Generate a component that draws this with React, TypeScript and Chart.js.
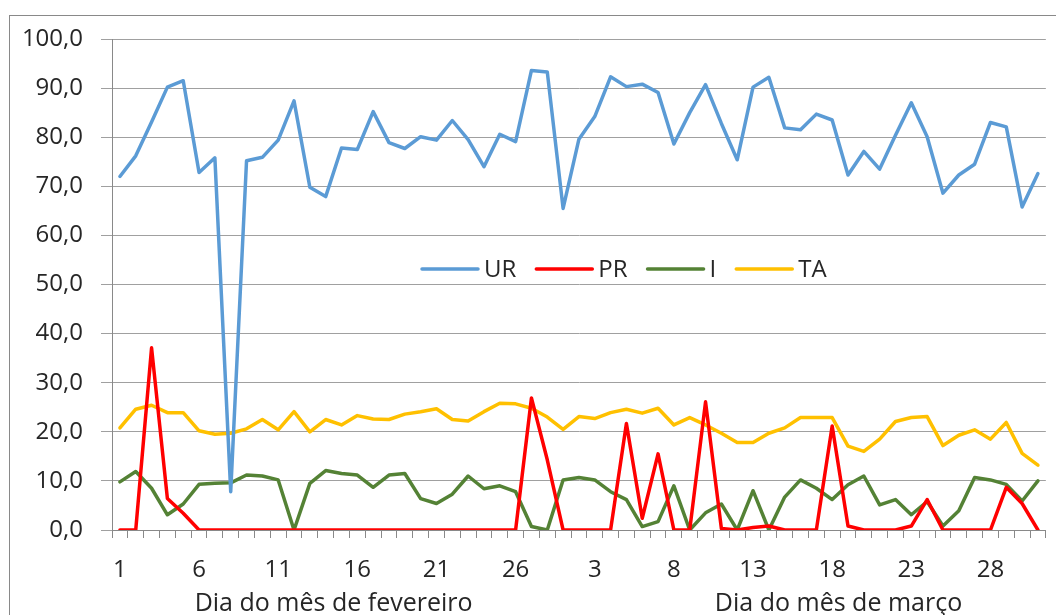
import React, { useEffect, useRef } from "react";
import { Chart, registerables } from "chart.js";

Chart.register(...registerables);

const FEB_DAYS = ["1","2","3","4","5","6","7","8","9","10","11","12","13","14","15","16","17","18","19","20","21","22","23","24","25","26","27","28"];
const MAR_DAYS = ["1","2","3","4","5","6","7","8","9","10","11","12","13","14","15","16","17","18","19","20","21","22","23","24","25","26","27","28","29","30","31"];
const DAYS = [...FEB_DAYS, ...MAR_DAYS];

const UR = [72.0, 76.2, 83.1, 90.2, 91.5, 72.8, 75.8, 7.8, 75.2, 75.9,
  79.4, 87.4, 69.8, 67.9, 77.8, 77.5, 85.2, 78.9, 77.7, 80.1,
  79.4, 83.4, 79.5, 74.0, 80.6, 79.1, 93.6, 93.3, 65.5, 79.6,
  84.2, 92.3, 90.3, 90.8, 89.1, 78.6, 85.0, 90.7, 82.8, 75.4,
  90.2, 92.2, 81.9, 81.5, 84.7, 83.5, 72.3, 77.1, 73.5, 80.4,
  87.0, 80.1, 68.6, 72.3, 74.5, 83.0, 82.1, 65.8, 72.6];
const PR = [0, 0, 37.1, 6.4, 3.4, 0, 0, 0, 0, 0,
  0, 0, 0, 0, 0, 0, 0, 0, 0, 0,
  0, 0, 0, 0, 0, 0, 26.9, 14.3, 0, 0,
  0, 0, 21.7, 2.4, 15.5, 0, 0, 26.1, 0.3, 0,
  0.5, 0.8, 0, 0, 0, 21.2, 0.8, 0, 0, 0,
  0.8, 6.2, 0, 0, 0, 0, 8.7, 5.4, 0];
const I = [9.8, 11.9, 8.5, 3.1, 5.3, 9.3, 9.5, 9.6, 11.2, 11.0,
  10.2, 0, 9.5, 12.1, 11.5, 11.2, 8.7, 11.2, 11.5, 6.4,
  5.4, 7.3, 11.0, 8.4, 9.0, 7.8, 0.7, 0, 10.2, 10.7,
  10.2, 7.8, 6.2, 0.7, 1.7, 9.0, 0, 3.5, 5.3, 0,
  8.0, 0, 6.7, 10.2, 8.5, 6.2, 9.2, 11.0, 5.1, 6.2,
  3.1, 5.8, 0.8, 3.9, 10.7, 10.2, 9.3, 5.9, 10.0];
const TA = [20.8, 24.6, 25.4, 23.9, 23.9, 20.2, 19.5, 19.7, 20.6, 22.5,
  20.4, 24.1, 20.0, 22.5, 21.4, 23.3, 22.6, 22.5, 23.6, 24.1,
  24.7, 22.5, 22.2, 24.1, 25.8, 25.7, 24.8, 23.0, 20.5, 23.1,
  22.7, 23.9, 24.6, 23.8, 24.8, 21.4, 22.9, 21.4, 19.7, 17.8,
  17.8, 19.7, 20.8, 22.9, 22.9, 22.9, 17.1, 16.0, 18.5, 22.1,
  22.9, 23.1, 17.2, 19.3, 20.4, 18.5, 21.9, 15.6, 13.2];

const SERIES_NAMES = ["UR", "PR", "I", "TA"];
const SERIES_COLORS = ["#5B9BD5", "#FF0000", "#548235", "#FFC000"];
const Y_TICKS_MAX = 100;
const Y_STEP = 10;
const X_TITLES = ["Dia do mês de fevereiro", "Dia do mês de março"];

const FONT = "'Open Sans', 'DejaVu Sans', sans-serif";
const TEXT_COLOR = "#262626";

const overlayPlugin = {
  id: "overlay",
  beforeDraw(chart: any) {
    const ctx = chart.ctx;
    ctx.save();
    ctx.fillStyle = "#ffffff";
    ctx.fillRect(0, 0, chart.width, chart.height);
    ctx.strokeStyle = "#898989";
    ctx.lineWidth = 1;
    ctx.strokeRect(9.5, 15.5, chart.width + 50, chart.height + 50);
    ctx.restore();
  },
  afterDraw(chart: any) {
    const ctx = chart.ctx;
    ctx.save();
    // legend
    ctx.font = `24px ${FONT}`;
    ctx.textBaseline = "middle";
    ctx.textAlign = "left";
    let x = 422;
    const y = 269;
    chart.data.datasets.forEach((ds: any) => {
      ctx.strokeStyle = ds.borderColor;
      ctx.lineWidth = 3.5;
      ctx.lineCap = "round";
      ctx.beginPath();
      ctx.moveTo(x, y);
      ctx.lineTo(x + 56, y);
      ctx.stroke();
      ctx.fillStyle = TEXT_COLOR;
      ctx.fillText(ds.label, x + 62, y + 1);
      x += 62 + ctx.measureText(ds.label).width + 20;
    });
    // axis titles
    const xs = chart.scales.x;
    ctx.font = `25px ${FONT}`;
    ctx.textAlign = "center";
    ctx.textBaseline = "alphabetic";
    const febCenter = (xs.getPixelForValue(0) + xs.getPixelForValue(FEB_DAYS.length - 1)) / 2;
    ctx.fillText(X_TITLES[0], febCenter, 611);
    ctx.fillText(X_TITLES[1], xs.getPixelForValue(45.4), 611);
    ctx.restore();
  },
};

export default function App() {
  const ref = useRef<HTMLCanvasElement>(null);
  useEffect(() => {
    const chart = new Chart(ref.current as HTMLCanvasElement, {
      type: "line",
      data: {
        labels: DAYS,
        datasets: [UR, PR, I, TA].map((d, k) => ({
          label: SERIES_NAMES[k],
          data: d,
          borderColor: SERIES_COLORS[k],
          backgroundColor: SERIES_COLORS[k],
          borderWidth: 3.5,
          pointRadius: 0,
          tension: 0,
          fill: false,
          borderJoinStyle: "round" as const,
          borderCapStyle: "round" as const,
        })),
      },
      options: {
        responsive: false,
        animation: false,
        devicePixelRatio: 1,
        layout: { padding: { left: 0, top: 39, right: 8, bottom: 0 } },
        plugins: { legend: { display: false }, tooltip: { enabled: false }, title: { display: false } },
        scales: {
          x: {
            type: "category",
            offset: true,
            grid: { drawOnChartArea: false, drawTicks: true, tickLength: 8, offset: true, color: "#898989" },
            border: { color: "#898989", width: 1 },
            ticks: {
              autoSkip: false,
              maxRotation: 0,
              padding: 18,
              color: TEXT_COLOR,
              font: { size: 24, family: FONT },
              callback: (_v: any, idx: number) => (idx % 5 === 0 ? DAYS[idx] : ""),
            },
            afterFit: (s: any) => { s.height = 85; },
          },
          y: {
            min: 0,
            max: Y_TICKS_MAX,
            grid: { color: "#A0A0A0", tickLength: 11, lineWidth: 1 },
            border: { color: "#898989", width: 1 },
            ticks: {
              stepSize: Y_STEP,
              padding: 18,
              color: TEXT_COLOR,
              font: { size: 24, family: FONT },
              callback: (v: any) => Number(v).toFixed(1).replace(".", ","),
            },
            afterFit: (s: any) => { s.width = 112; },
          },
        },
      },
      plugins: [overlayPlugin],
    });
    return () => chart.destroy();
  }, []);
  return (
    <div style={{ position: "fixed", left: 0, top: 0, width: 1056, height: 615, background: "#fff" }}>
      <canvas ref={ref} width={1056} height={615} style={{ display: "block" }} />
    </div>
  );
}
